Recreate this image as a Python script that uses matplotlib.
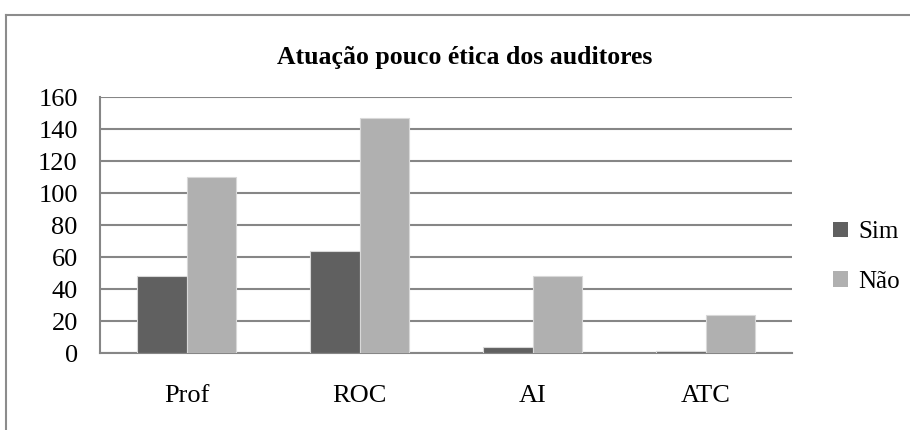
import numpy as np
import matplotlib.pyplot as plt
from matplotlib.lines import Line2D
from matplotlib.patches import Patch

# data
categorias = ['Prof', 'ROC', 'AI', 'ATC']
sim = [48, 64, 4, 1]
nao = [110, 147, 48, 24]
series_labels = ['Sim', 'Não']
yticks = [0, 20, 40, 60, 80, 100, 120, 140, 160]

cor_sim = '#606060'
cor_nao = '#b0b0b0'

plt.rcParams['font.family'] = ['Liberation Serif', 'DejaVu Serif']

fig = plt.figure(figsize=(9.1, 4.3), dpi=100)
W, H = 910., 430.
# plot area in pixels: left 100, right 792, top 97, bottom 353
ax = fig.add_axes([100/W, 1-353/H, (792-100)/W, (353-97)/H])

x = np.arange(len(categorias))
bw = 0.286
ax.bar(x - bw/2, sim, bw, color=cor_sim, edgecolor='#d8d8d8', linewidth=0.8, zorder=3)
ax.bar(x + bw/2, nao, bw, color=cor_nao, edgecolor='#d8d8d8', linewidth=0.8, zorder=3)

ax.set_xlim(-0.5, len(categorias) - 0.5)
ax.set_ylim(0, 160)
ax.set_yticks(yticks)
ax.set_yticklabels([str(v) for v in yticks], fontsize=19)
ax.set_xticks(x)
ax.set_xticklabels(categorias, fontsize=19)
ax.tick_params(axis='y', length=0, pad=16)
ax.tick_params(axis='x', length=0, pad=23)
ax.yaxis.grid(True, color='#868686', linewidth=1.5, zorder=0)
for s in ['top', 'right']:
    ax.spines[s].set_visible(False)
ax.spines['left'].set_color('#868686')
ax.spines['left'].set_linewidth(1.5)
ax.spines['bottom'].set_color('#868686')
ax.spines['bottom'].set_linewidth(1.5)

ax.set_title('Atuação pouco ética dos auditores', fontsize=18.5, fontweight='bold',
             x=0.527, pad=24)

handles = [Patch(facecolor=cor_sim), Patch(facecolor=cor_nao)]
leg = fig.legend(handles, series_labels, loc='center left', bbox_to_anchor=(813/W, 1-257/H),
                 frameon=False, fontsize=18, handlelength=0.6, handleheight=0.6,
                 handletextpad=0.4, labelspacing=1.1, borderpad=0.3)

# outer chart frame
fig.add_artist(Line2D([6/W, 6/W], [0, 1-15/H], color='#8c8c8c', linewidth=1.5))
fig.add_artist(Line2D([6/W, 1], [1-15/H, 1-15/H], color='#8c8c8c', linewidth=1.5))

fig.savefig('out.png', dpi=100)
